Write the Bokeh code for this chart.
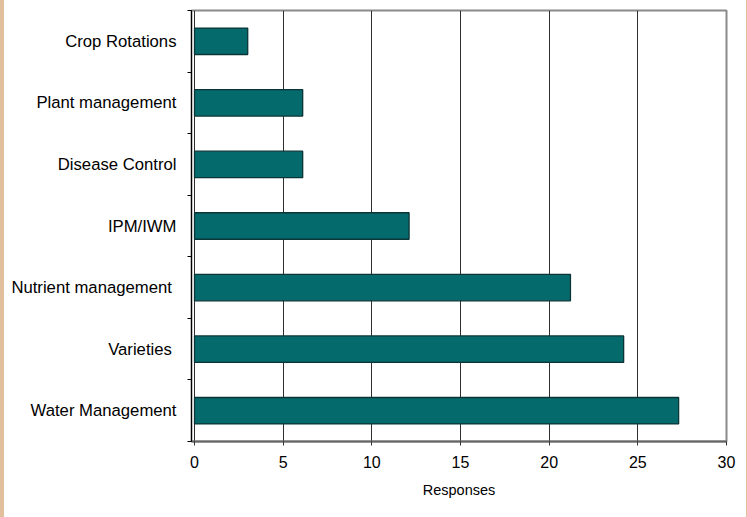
from bokeh.plotting import figure
from bokeh.models import Range1d, FixedTicker, Spacer
from bokeh.layouts import row
from bokeh.embed import file_html
from bokeh.resources import INLINE

# Survey topics, listed top to bottom, and their share of responses
topics = [
    "Crop Rotations",
    "Plant management",
    "Disease Control",
    "IPM/IWM",
    "Nutrient management ",
    "Varieties ",
    "Water Management",
]
responses = [3.0, 6.1, 6.1, 12.1, 21.2, 24.2, 27.3]
x_ticks = [0, 5, 10, 15, 20, 25, 30]

FONT = "Liberation Sans"
BAR_FILL = "#056a6c"
BAR_EDGE = "#0b3436"
EDGE_TAN = "#e2bf9d"

positions = list(range(1, len(topics) + 1))

p = figure(
    width=742, height=517,
    x_range=Range1d(-0.17, 30),
    y_range=Range1d(len(topics) + 0.5, 0.5),
    output_backend="svg", toolbar_location=None,
    min_border_left=187, min_border_right=20,
    min_border_top=10, min_border_bottom=76,
    background_fill_color="white", border_fill_color="white",
)

p.hbar(y=positions, left=0, right=responses, height=0.43,
       fill_color=BAR_FILL, line_color=BAR_EDGE, line_width=1.3)

# frame
p.outline_line_color = "#8a8a8a"
p.outline_line_width = 2

# vertical grid at every x tick
p.xgrid.ticker = FixedTicker(ticks=x_ticks)
p.xgrid.grid_line_color = "#2e2e2e"
p.xgrid.grid_line_width = 1
p.ygrid.grid_line_color = None

# x axis
xa = p.xaxis[0]
xa.ticker = FixedTicker(ticks=x_ticks)
xa.axis_line_color = "#666666"
xa.axis_line_width = 2
xa.major_tick_out = 4
xa.major_tick_in = 0
xa.major_tick_line_color = "#333333"
xa.minor_tick_line_color = None
xa.major_label_text_font = FONT
xa.major_label_text_font_size = "16px"
xa.major_label_text_color = "black"
xa.major_label_standoff = 10
xa.axis_label = "Responses"
xa.axis_label_text_font = FONT
xa.axis_label_text_font_size = "14.5px"
xa.axis_label_text_font_style = "normal"
xa.axis_label_text_color = "black"
xa.axis_label_standoff = 11

# y axis: names at bar centres, short ticks between categories
ya = p.yaxis[0]
ya.ticker = FixedTicker(
    ticks=positions,
    minor_ticks=[i + 0.5 for i in range(len(topics) + 1)],
)
ya.major_label_overrides = {pos: name for pos, name in zip(positions, topics)}
ya.axis_line_color = "black"
ya.axis_line_width = 1
ya.major_tick_out = 0
ya.major_tick_in = 0
ya.minor_tick_out = 4
ya.minor_tick_in = 0
ya.minor_tick_line_color = "black"
ya.major_label_text_font = FONT
ya.major_label_text_font_size = "16.7px"
ya.major_label_text_color = "black"
ya.major_label_standoff = 11

left_edge = Spacer(width=4, height=517, styles={"background-color": EDGE_TAN})
right_edge = Spacer(width=1, height=517, styles={"background-color": EDGE_TAN})
layout = row(left_edge, p, right_edge, spacing=0)

open("out.html", "w").write(file_html(layout, INLINE))
